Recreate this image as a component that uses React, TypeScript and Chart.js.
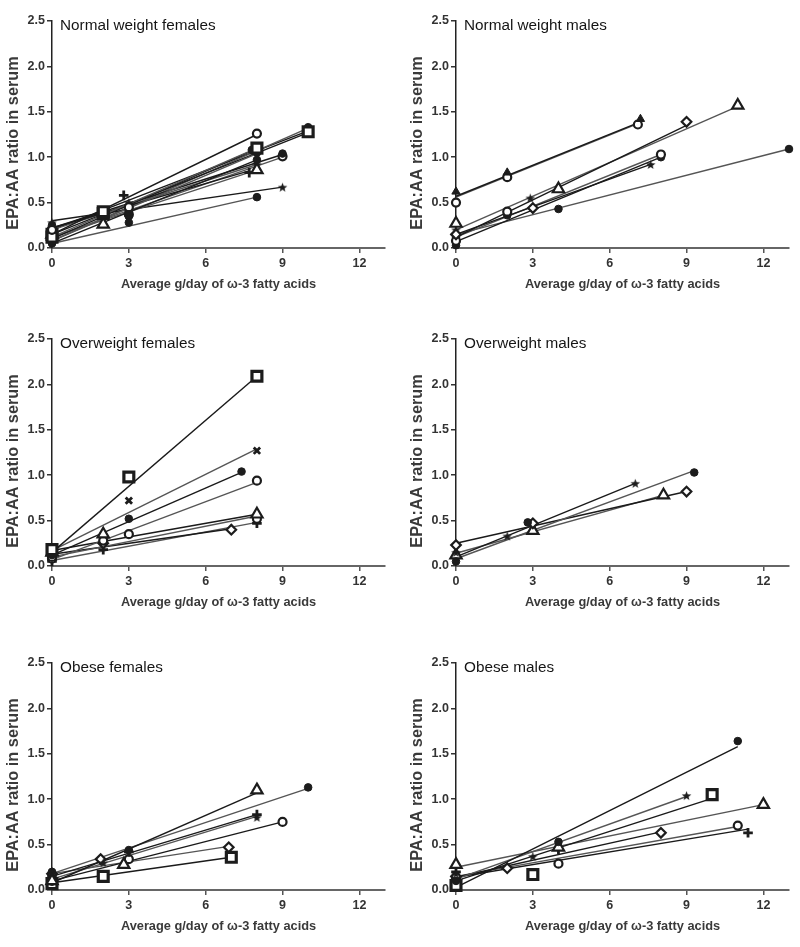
import React, { useEffect, useRef } from "react";
import { Chart, registerables } from "chart.js";

Chart.register(...registerables);

// ---------- shared labels ----------
const xAxisTitle = "Average g/day of ω-3 fatty acids";
const yAxisTitle = "EPA:AA ratio in serum";
const xTickStep = 3;
const xAxisMax = 13;
const yTickStep = 0.5;
const yAxisMax = 2.5;

// ---------- Normal weight females ----------
const nwfTitle = "Normal weight females";
const nwfPoints: number[][][] = [
  [[0, 0.2], [3, 0.45], [8, 1.26]],
  [[0, 0.12], [2, 0.4], [8, 1.1]],
  [[0, 0.1], [3, 0.4], [7.8, 1.08]],
  [[0, 0.08], [3, 0.36], [8, 1.05]],
  [[0, 0.05], [3, 0.35], [8, 0.97]],
  [[0, 0.15], [2, 0.26], [8, 0.86]],
  [[0, 0.22], [2.8, 0.58], [7.7, 0.83]],
  [[0, 0.18], [3, 0.5], [8, 0.92]],
  [[0, 0.25], [3, 0.44], [9, 1.04]],
  [[0, 0.12], [3, 0.37], [9, 1.01]],
  [[0, 0.28], [3, 0.47], [9, 0.67]],
  [[0, 0.1], [3, 0.28], [8, 0.56]],
  [[0, 0.15], [2, 0.38], [10, 1.28]],
  [[0, 0.06], [3, 0.42], [10, 1.33]],
  [[0, 0.2], [2, 0.36], [10, 1.3]],
];
const nwfLines: number[][] = [
  [0.15, 1.25], [0.12, 1.1], [0.1, 1.07], [0.08, 1.04], [0.05, 0.97],
  [0.12, 0.86], [0.22, 0.85], [0.2, 0.92], [0.22, 1.03], [0.12, 1.0],
  [0.3, 0.67], [0.05, 0.56], [0.15, 1.27], [0.08, 1.32], [0.2, 1.29],
];
const nwfMarkers = ["ring", "box", "dot", "dot", "dot", "tri", "plus", "star", "dot", "ring", "star", "dot", "box", "dot", "ring"];

// ---------- Normal weight males ----------
const nwmTitle = "Normal weight males";
const nwmPoints: number[][][] = [
  [[0, 0.62], [2, 0.83], [7.2, 1.42]],
  [[0, 0.5], [2, 0.78], [7.1, 1.36]],
  [[0, 0.15], [3, 0.44], [9, 1.39]],
  [[0, 0.27], [4, 0.65], [11, 1.57]],
  [[0, 0.2], [2.9, 0.55], [7.6, 0.92]],
  [[0, 0.08], [2, 0.4], [8, 1.03]],
  [[0, 0.03], [2, 0.36], [8, 1.0]],
  [[0, 0.12], [4, 0.43], [13, 1.09]],
];
const nwmLines: number[][] = [
  [0.57, 1.39], [0.56, 1.37], [0.12, 1.35], [0.2, 1.56],
  [0.15, 0.92], [0.12, 1.03], [0.07, 1.0], [0.15, 1.09],
];
const nwmMarkers = ["triF", "ring", "diamond", "tri", "star", "ring", "dot", "dot"];

// ---------- Overweight females ----------
const owfTitle = "Overweight females";
const owfPoints: number[][][] = [
  [[0, 0.18], [3, 0.98], [8, 2.09]],
  [[0, 0.2], [3, 0.72], [8, 1.27]],
  [[0, 0.12], [3, 0.52], [7.4, 1.04]],
  [[0, 0.1], [3, 0.35], [8, 0.94]],
  [[0, 0.15], [2, 0.35], [8, 0.57]],
  [[0, 0.08], [2, 0.28], [8, 0.52]],
  [[0, 0.12], [2, 0.25], [7, 0.4]],
  [[0, 0.05], [2, 0.18], [8, 0.47]],
];
const owfLines: number[][] = [
  [0.15, 2.09], [0.17, 1.29], [0.12, 1.03], [0.07, 0.92],
  [0.17, 0.57], [0.1, 0.55], [0.13, 0.41], [0.06, 0.48],
];
const owfMarkers = ["box", "x", "dot", "ring", "tri", "ring", "diamond", "plus"];

// ---------- Overweight males ----------
const owmTitle = "Overweight males";
const owmPoints: number[][][] = [
  [[0, 0.15], [2, 0.33], [7, 0.91]],
  [[0, 0.05], [2.8, 0.48], [9.3, 1.03]],
  [[0, 0.23], [3, 0.47], [9, 0.82]],
  [[0, 0.12], [3, 0.39], [8.1, 0.78]],
];
const owmLines: number[][] = [[0.1, 0.91], [0.08, 1.05], [0.25, 0.82], [0.14, 0.78]];
const owmMarkers = ["star", "dot", "diamond", "tri"];

// ---------- Obese females ----------
const obfTitle = "Obese females";
const obfPoints: number[][][] = [
  [[0, 0.1], [2.8, 0.28], [8, 1.1]],
  [[0, 0.2], [3, 0.44], [10, 1.13]],
  [[0, 0.15], [3, 0.42], [8, 0.83]],
  [[0, 0.12], [2, 0.3], [8, 0.8]],
  [[0, 0.1], [3, 0.34], [9, 0.75]],
  [[0, 0.18], [1.9, 0.34], [6.9, 0.47]],
  [[0, 0.07], [2, 0.15], [7, 0.36]],
];
const obfLines: number[][] = [
  [0.08, 1.07], [0.18, 1.12], [0.15, 0.83], [0.12, 0.81],
  [0.1, 0.75], [0.18, 0.48], [0.08, 0.36],
];
const obfMarkers = ["tri", "dot", "plus", "star", "ring", "diamond", "box"];

// ---------- Obese males ----------
const obmTitle = "Obese males";
const obmPoints: number[][][] = [
  [[0, 0.1], [4, 0.53], [11, 1.64]],
  [[0, 0.18], [3, 0.37], [9, 1.04]],
  [[0, 0.05], [3, 0.17], [10, 1.05]],
  [[0, 0.28], [4, 0.47], [12, 0.94]],
  [[0, 0.15], [2, 0.24], [8, 0.63]],
  [[0, 0.12], [4, 0.29], [11, 0.71]],
  [[0, 0.2], [4, 0.45], [11.4, 0.63]],
];
const obmLines: number[][] = [
  [0.03, 1.58], [0.12, 1.03], [0.1, 1.01], [0.25, 0.94],
  [0.14, 0.64], [0.15, 0.7], [0.14, 0.67],
];
const obmMarkers = ["dot", "star", "box", "tri", "diamond", "ring", "plus"];

// ---------- rendering ----------
const FONT = "'Liberation Sans', Arial, Helvetica, sans-serif";
const INK = "#1c1c1c";

let starImg: HTMLCanvasElement | null = null;
function getStar(): HTMLCanvasElement {
  if (starImg) return starImg;
  const s = 11;
  const c = document.createElement("canvas");
  c.width = s;
  c.height = s;
  const g = c.getContext("2d")!;
  const cx = s / 2, cy = s / 2 + 0.5, ro = 5, ri = 2.1;
  g.beginPath();
  for (let k = 0; k < 10; k++) {
    const r = k % 2 ? ri : ro;
    const a = -Math.PI / 2 + (k * Math.PI) / 5;
    const px = cx + r * Math.cos(a);
    const py = cy + r * Math.sin(a);
    if (k === 0) g.moveTo(px, py); else g.lineTo(px, py);
  }
  g.closePath();
  g.fillStyle = INK;
  g.fill();
  starImg = c;
  return c;
}

function markerStyle(m: string): any {
  switch (m) {
    case "dot": return { style: "circle", r: 3.8, fill: INK, bw: 1 };
    case "ring": return { style: "circle", r: 4, fill: "#fff", bw: 2.2 };
    case "box": return { style: "rect", r: 7, fill: "#fff", bw: 3.2 };
    case "tri": return { style: "triangle", r: 6.5, fill: "#fff", bw: 2.2 };
    case "triF": return { style: "triangle", r: 4.8, fill: INK, bw: 1 };
    case "star": return { style: getStar(), r: 5, fill: INK, bw: 1 };
    case "x": return { style: "crossRot", r: 4.5, fill: INK, bw: 2.8 };
    case "plus": return { style: "cross", r: 4.8, fill: INK, bw: 2.8 };
    case "diamond": return { style: "rectRot", r: 4.8, fill: "#fff", bw: 2.2 };
    default: return { style: "circle", r: 3.5, fill: INK, bw: 1 };
  }
}

const AREA_LEFT = 52;
const AREA_RIGHT = 385;
const AREA_TOP = 21;
const AREA_BOTTOM = 248;
const X_AXIS_H = 50;

type PanelProps = {
  left: number; top: number; width: number; height: number;
  title: string; points: number[][][]; lines: number[][]; markers: string[];
};

function Panel({ left, top, width, height, title, points, lines, markers }: PanelProps) {
  const ref = useRef<HTMLCanvasElement>(null);
  useEffect(() => {
    if (!ref.current) return;
    const datasets: any[] = [];
    points.forEach((pts, i) => {
      const xEnd = Math.max(...pts.map((p) => p[0]));
      datasets.push({
        data: [{ x: 0, y: lines[i][0] }, { x: xEnd, y: lines[i][1] }],
        showLine: true,
        borderColor: i % 2 ? "#555" : "#1a1a1a",
        borderWidth: 1.4,
        pointRadius: 0,
        clip: false,
        order: 2,
      });
    });
    points.forEach((pts, i) => {
      const m = markerStyle(markers[i]);
      datasets.push({
        data: pts.map(([x, y]) => ({ x, y })),
        showLine: false,
        pointStyle: m.style,
        pointRadius: m.r,
        pointBackgroundColor: m.fill,
        pointBorderColor: INK,
        pointBorderWidth: m.bw,
        clip: false,
        order: 1,
      });
    });

    const textPlugin = {
      id: "panelText",
      afterDraw(chart: any) {
        const ctx = chart.ctx;
        const a = chart.chartArea;
        ctx.save();
        ctx.fillStyle = "#151515";
        ctx.font = `15.3px ${FONT}`;
        ctx.textAlign = "left";
        ctx.textBaseline = "middle";
        ctx.fillText(title, a.left + 8, a.top + 5);
        ctx.fillStyle = "#3a3a3a";
        ctx.font = `bold 12.8px ${FONT}`;
        ctx.textAlign = "center";
        ctx.fillText(xAxisTitle, (a.left + a.right) / 2, 284);
        ctx.font = `bold 16.3px ${FONT}`;
        ctx.translate(14, 143);
        ctx.rotate(-Math.PI / 2);
        ctx.fillText(yAxisTitle, 0, 0);
        ctx.restore();
      },
    };

    const chart = new Chart(ref.current, {
      type: "scatter",
      data: { datasets },
      options: {
        animation: false,
        responsive: false,
        maintainAspectRatio: false,
        layout: {
          padding: { left: 0, top: AREA_TOP, right: width - AREA_RIGHT, bottom: height - AREA_BOTTOM - X_AXIS_H },
        },
        plugins: { legend: { display: false }, tooltip: { enabled: false }, title: { display: false } },
        scales: {
          x: {
            type: "linear",
            min: 0,
            max: xAxisMax,
            grid: { drawOnChartArea: false, drawTicks: true, tickLength: 5, color: "#555", lineWidth: 1.5 },
            border: { display: true, color: "#666", width: 2 },
            ticks: {
              stepSize: xTickStep,
              includeBounds: false,
              color: "#333",
              padding: 3,
              maxRotation: 0,
              font: { family: FONT, size: 12.5, weight: "bold" },
              callback: (v: any) => String(v),
            },
            afterFit: (s: any) => { s.height = X_AXIS_H; },
          },
          y: {
            type: "linear",
            min: 0,
            max: yAxisMax,
            grid: { drawOnChartArea: false, drawTicks: true, tickLength: 5, color: "#333", lineWidth: 1.5 },
            border: { display: true, color: "#222", width: 1.5 },
            ticks: {
              stepSize: yTickStep,
              color: "#333",
              padding: 2,
              font: { family: FONT, size: 12.5, weight: "bold" },
              callback: (v: any) => Number(v).toFixed(1),
            },
            afterFit: (s: any) => { s.width = AREA_LEFT; },
          },
        },
      } as any,
      plugins: [textPlugin],
    });
    return () => chart.destroy();
  }, [width, height, title, points, lines, markers]);

  return (
    <canvas
      ref={ref}
      width={width}
      height={height}
      style={{ position: "absolute", left, top, width, height, display: "block" }}
    />
  );
}

export default function App() {
  const colLeft = [0, 404];
  const colWidth = [400, 396];
  const rowTop = [0, 318, 642];
  const H = 300;
  return (
    <div style={{ position: "absolute", left: 0, top: 0, width: 800, height: 947, background: "#fff" }}>
      <Panel left={colLeft[0]} top={rowTop[0]} width={colWidth[0]} height={H} title={nwfTitle} points={nwfPoints} lines={nwfLines} markers={nwfMarkers} />
      <Panel left={colLeft[1]} top={rowTop[0]} width={colWidth[1]} height={H} title={nwmTitle} points={nwmPoints} lines={nwmLines} markers={nwmMarkers} />
      <Panel left={colLeft[0]} top={rowTop[1]} width={colWidth[0]} height={H} title={owfTitle} points={owfPoints} lines={owfLines} markers={owfMarkers} />
      <Panel left={colLeft[1]} top={rowTop[1]} width={colWidth[1]} height={H} title={owmTitle} points={owmPoints} lines={owmLines} markers={owmMarkers} />
      <Panel left={colLeft[0]} top={rowTop[2]} width={colWidth[0]} height={H} title={obfTitle} points={obfPoints} lines={obfLines} markers={obfMarkers} />
      <Panel left={colLeft[1]} top={rowTop[2]} width={colWidth[1]} height={H} title={obmTitle} points={obmPoints} lines={obmLines} markers={obmMarkers} />
    </div>
  );
}
